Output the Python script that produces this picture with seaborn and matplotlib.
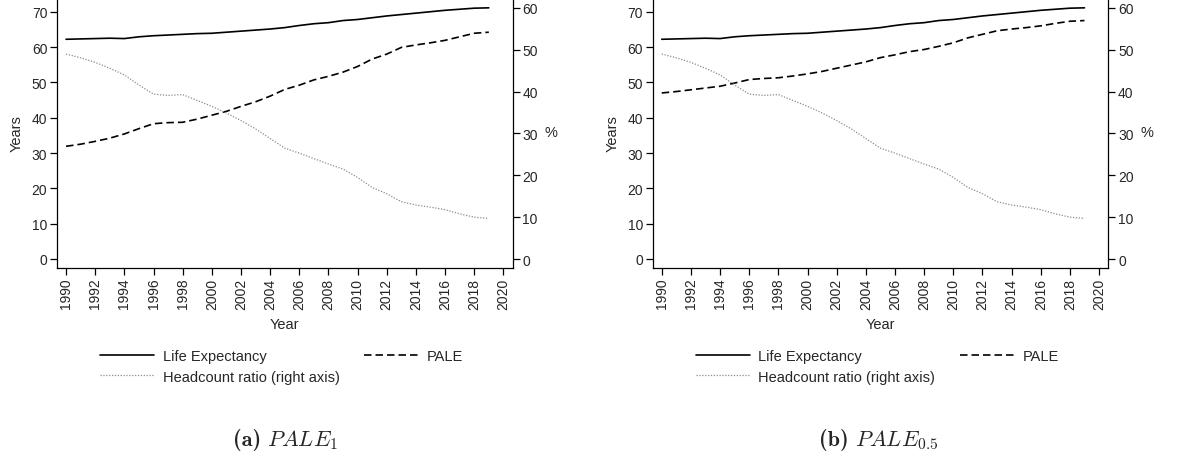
import numpy as np
import pandas as pd
import matplotlib
matplotlib.use('Agg')
import matplotlib.pyplot as plt
import seaborn as sns

years = list(range(1990, 2020))

life_exp = [62.2, 62.3, 62.4, 62.5, 62.4, 62.9, 63.2, 63.4, 63.6, 63.8,
            63.9, 64.2, 64.5, 64.8, 65.1, 65.5, 66.1, 66.6, 66.9, 67.5,
            67.8, 68.3, 68.8, 69.2, 69.6, 70.0, 70.4, 70.7, 71.0, 71.1]

pale_1 = [31.9, 32.5, 33.3, 34.2, 35.4, 36.9, 38.3, 38.6, 38.7, 39.6,
          40.7, 41.8, 43.2, 44.5, 46.1, 48.0, 49.2, 50.7, 51.7, 52.9,
          54.5, 56.6, 58.0, 59.9, 60.6, 61.2, 61.9, 62.9, 63.9, 64.2]

pale_05 = [47.0, 47.4, 47.9, 48.4, 48.9, 49.8, 50.8, 51.1, 51.3, 51.8,
           52.4, 53.1, 54.0, 54.9, 55.8, 57.0, 57.8, 58.7, 59.3, 60.2,
           61.2, 62.6, 63.6, 64.6, 65.1, 65.5, 66.0, 66.7, 67.3, 67.5]

headcount = [49.0, 48.1, 47.0, 45.6, 44.0, 41.6, 39.4, 39.1, 39.3, 37.9,
             36.5, 34.9, 33.1, 31.1, 28.8, 26.5, 25.3, 24.0, 22.7, 21.5,
             19.5, 17.1, 15.6, 13.7, 12.9, 12.4, 11.8, 10.8, 10.0, 9.7]

x_ticks = list(range(1990, 2021, 2))
left_ticks = [0, 10, 20, 30, 40, 50, 60, 70]
right_ticks = [0, 10, 20, 30, 40, 50, 60]
cap_tags = ['(a)', '(b)']
cap_names = [r'$PALE_1$', r'$PALE_{0.5}$']

sns.set_style('white')
plt.rcParams['font.family'] = ['Liberation Sans', 'DejaVu Sans']
plt.rcParams['mathtext.fontset'] = 'cm'

W, H = 1181, 460
fig = plt.figure(figsize=(W / 100, H / 100), dpi=100)

panel_left = [57, 652.7]
ax_w = 455.7
ax_bottom = 269

dashed = (0, (4.5, 2.4))
dotted = (0, (1, 1.3))

for i, pale in enumerate([pale_1, pale_05]):
    ax = fig.add_axes([panel_left[i] / W, (H - ax_bottom) / H, ax_w / W, ax_bottom / H])
    ax2 = ax.twinx()

    df = pd.DataFrame({'Year': years, 'LE': life_exp, 'PALE': pale, 'HC': headcount})
    sns.lineplot(data=df, x='Year', y='LE', ax=ax, color='black', lw=1.2,
                 label='Life Expectancy', legend=False)
    sns.lineplot(data=df, x='Year', y='PALE', ax=ax, color='black', lw=1.2,
                 label='PALE', legend=False)
    ax.lines[-1].set_linestyle(dashed)
    sns.lineplot(data=df, x='Year', y='HC', ax=ax2, color='#8c8c8c', lw=0.9,
                 label='Headcount ratio (right axis)', legend=False)
    ax2.lines[-1].set_linestyle(dotted)

    ax.set_xlim(1989.38, 2020.64)
    ax.set_ylim(-2.55, 73.6)
    ax2.set_ylim(-2.15, 62.15)
    ax.set_xticks(x_ticks)
    ax.set_xticklabels([str(t) for t in x_ticks], rotation=90)
    ax.set_yticks(left_ticks)
    ax2.set_yticks(right_ticks)

    for a in (ax, ax2):
        a.spines['top'].set_visible(False)
        for s in a.spines.values():
            s.set_linewidth(0.9)
            s.set_color('black')
        a.tick_params(length=5, width=0.9, labelsize=10, pad=2, color='black')
        a.grid(False)
    ax.spines['right'].set_visible(False)
    ax2.spines['left'].set_visible(False)
    ax2.spines['bottom'].set_visible(False)
    ax.tick_params(axis='y', left=True, right=False)
    ax.tick_params(axis='x', bottom=True)

    ax.set_xlabel('Year', fontsize=10.5, va='center')
    ax.xaxis.set_label_coords(0.5, -0.21)
    ax.set_ylabel('Years', fontsize=10.5, ha='center', va='center')
    ax.yaxis.set_label_coords(-0.088, 0.505)
    ax2.set_ylabel('%', fontsize=10.5, rotation=0, ha='center', va='center')
    ax2.yaxis.set_label_coords(1.084, 0.505)

    handles = [ax.lines[0], ax2.lines[0], ax.lines[1]]
    labels = ['Life Expectancy', 'Headcount ratio (right axis)', 'PALE']
    off = panel_left[i] - 57
    fig.legend(handles, labels, ncol=2, frameon=False, fontsize=10.5,
               loc='upper left', bbox_to_anchor=((100 + off) / W, 1 - 350 / H),
               borderpad=0, borderaxespad=0, handlelength=3.7, handletextpad=0.6,
               labelspacing=0.45, columnspacing=1.7)

    split = 261 + off + (0 if i == 0 else -8)
    fig.text(split / W, 1 - 440 / H, cap_tags[i], fontfamily='cmb10', fontsize=16,
             ha='right', va='center')
    fig.text((split + 6) / W, 1 - 440 / H, cap_names[i], fontsize=16,
             ha='left', va='center')

fig.savefig('out.png', dpi=100)
